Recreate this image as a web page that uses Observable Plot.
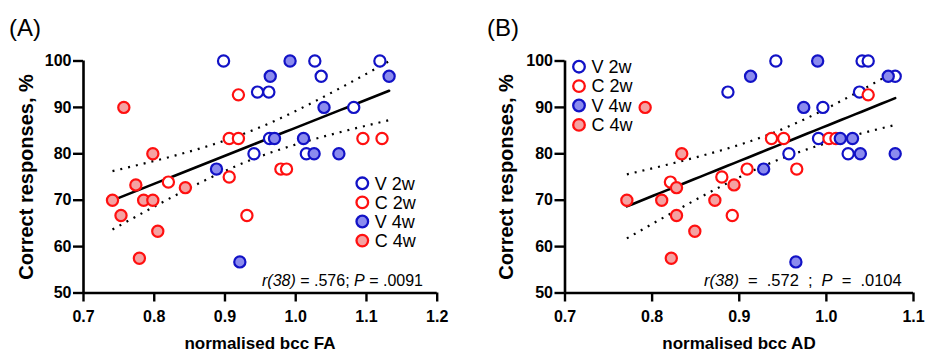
<!DOCTYPE html>
<html><head><meta charset="utf-8">
<script src="https://cdn.jsdelivr.net/npm/d3@7"></script>
<script src="https://cdn.jsdelivr.net/npm/@observablehq/plot@0.6"></script>
<style>
body{margin:0;background:#fff;}
#fig{position:relative;width:928px;height:351px;overflow:hidden;background:#fff;}
#fig svg{position:absolute;top:0;}
</style></head><body><div id="fig"></div>
<script>
// ---------- data ----------
const groupNames = ["V 2w", "C 2w", "V 4w", "C 4w"];
const groupStroke = ["#1212c6", "#ff1010", "#1212c6", "#ff1010"];
const groupFill = ["#ffffff", "#ffffff", "#8b8bee", "#f4a2a2"];

// Panel A: normalised bcc FA
const faV2wX = [0.898, 1.027, 1.119, 1.036, 0.946, 0.962, 1.082, 0.963, 0.941, 1.015];
const faV2wY = [100, 100, 100, 96.7, 93.3, 93.3, 90, 83.3, 80, 80];
const faC2wX = [0.919, 0.906, 0.919, 1.095, 1.122, 0.979, 0.987, 0.906, 0.820, 0.931];
const faC2wY = [92.7, 83.3, 83.3, 83.3, 83.3, 76.7, 76.7, 75, 73.9, 66.7];
const faV4wX = [0.992, 0.964, 1.132, 1.040, 0.970, 1.011, 1.026, 1.061, 0.888, 0.921];
const faV4wY = [100, 96.7, 96.7, 90, 83.3, 83.3, 80, 80, 76.7, 56.7];
const faC4wX = [0.757, 0.798, 0.774, 0.844, 0.741, 0.785, 0.798, 0.753, 0.805, 0.779];
const faC4wY = [90, 80, 73.3, 72.7, 70, 70, 70, 66.7, 63.3, 57.5];

// Panel B: normalised bcc AD
const adV2wX = [0.942, 1.041, 1.048, 1.079, 0.887, 1.038, 0.996, 0.991, 0.957, 1.025];
const adV2wY = [100, 100, 100, 96.7, 93.3, 93.3, 90, 83.3, 80, 80];
const adC2wX = [1.048, 0.937, 0.951, 1.003, 1.011, 0.909, 0.966, 0.880, 0.821, 0.892];
const adC2wY = [92.7, 83.3, 83.3, 83.3, 83.3, 76.7, 76.7, 75, 73.9, 66.7];
const adV4wX = [0.990, 0.913, 1.071, 0.974, 1.016, 1.030, 1.039, 1.079, 0.928, 0.965];
const adV4wY = [100, 96.7, 96.7, 90, 83.3, 83.3, 80, 80, 76.7, 56.7];
const adC4wX = [0.792, 0.834, 0.894, 0.828, 0.771, 0.811, 0.872, 0.828, 0.849, 0.822];
const adC4wY = [90, 80, 73.3, 72.7, 70, 70, 70, 66.7, 63.3, 57.5];

const xTicksA = [0.7, 0.8, 0.9, 1.0, 1.1, 1.2];
const xTicksB = [0.7, 0.8, 0.9, 1.0, 1.1];
const yTicks = [50, 60, 70, 80, 90, 100];

const panelLabels = ["(A)", "(B)"];
const xTitles = ["normalised bcc FA", "normalised bcc AD"];
const yTitle = "Correct responses, %";
const statR = [".576", ".572"];
const statP = [".0091", ".0104"];
const statDf = "38";
const tCrit = 2.0244; // t(0.975, df = 38)

// ---------- helpers ----------
const FONT = "'Liberation Sans', Arial, Helvetica, sans-serif";

function groupsOf(xsList, ysList) {
  return xsList.map((xs, i) => xs.map((x, j) => ({x, y: ysList[i][j]})));
}

function fitCurve(points) {
  const xs = points.map(d => d.x), ys = points.map(d => d.y);
  const n = xs.length, mx = d3.mean(xs), my = d3.mean(ys);
  let sxx = 0, sxy = 0;
  for (let i = 0; i < n; i++) { sxx += (xs[i] - mx) ** 2; sxy += (xs[i] - mx) * (ys[i] - my); }
  const b = sxy / sxx, a = my - b * mx;
  let sse = 0;
  for (let i = 0; i < n; i++) sse += (ys[i] - a - b * xs[i]) ** 2;
  const s = Math.sqrt(sse / (n - 2));
  const [x0, x1] = d3.extent(xs);
  return d3.range(41).map(k => {
    const x = x0 + (x1 - x0) * k / 40;
    const yh = a + b * x;
    const h = tCrit * s * Math.sqrt(1 / n + (x - mx) ** 2 / sxx);
    return {x, y: yh, lo: yh - h, hi: yh + h};
  });
}

function makePanel(cfg) {
  const groups = cfg.groups;
  const all = groups.flat();
  const curve = fitCurve(all);
  const dotted = {stroke: "#000", strokeWidth: 2.2, strokeDasharray: "2,6", strokeLinecap: "butt"};
  const marks = [
    Plot.ruleX([cfg.xTicks[0]], {stroke: "#000", strokeWidth: 2.6}),
    Plot.ruleY([yTicks[0]], {stroke: "#000", strokeWidth: 2.6}),
    Plot.axisX({ticks: cfg.xTicks, tickFormat: d3.format(".1f"), tickSize: 9, tickPadding: 9,
      strokeWidth: 2.4, fontSize: 16, fontWeight: "bold", label: null}),
    Plot.axisY({ticks: yTicks, tickSize: 10, tickPadding: 2, strokeWidth: 2.4,
      fontSize: 16, fontWeight: "bold", label: null}),
    Plot.line(curve, {x: "x", y: "hi", ...dotted}),
    Plot.line(curve, {x: "x", y: "lo", ...dotted}),
    Plot.line(curve, {x: "x", y: "y", stroke: "#000", strokeWidth: 2.6})
  ];
  groups.forEach((g, i) => {
    marks.push(Plot.dot(g, {x: "x", y: "y", r: 5.6, fill: groupFill[i], stroke: groupStroke[i], strokeWidth: 2.2}));
  });
  const svg = Plot.plot({
    width: 464, height: 351,
    marginLeft: cfg.marginLeft, marginRight: cfg.marginRight, marginTop: 60.5, marginBottom: 58.5,
    x: {domain: [cfg.xTicks[0], cfg.xTicks[cfg.xTicks.length - 1]]},
    y: {domain: [yTicks[0], yTicks[yTicks.length - 1]]},
    style: {fontFamily: FONT, background: "transparent", overflow: "visible", color: "#000"},
    marks
  });
  svg.style.left = cfg.left + "px";
  const s = d3.select(svg);
  // panel label
  s.append("text").attr("x", cfg.labelX).attr("y", 36).attr("font-size", 24)
    .attr("text-anchor", "start").attr("font-family", FONT).text(cfg.label);
  // y title
  s.append("text").attr("transform", `translate(${cfg.yTitleX},177) rotate(-90)`)
    .attr("text-anchor", "middle").attr("font-size", 20).attr("font-weight", "bold")
    .attr("font-family", FONT).text(yTitle);
  // x title
  s.append("text").attr("x", cfg.xTitleX).attr("y", 348.5).attr("text-anchor", "middle")
    .attr("font-size", 17).attr("font-weight", "bold").attr("font-family", FONT).text(cfg.xTitle);
  // stats annotation
  const t = s.append("text").attr("x", cfg.statX).attr("y", 286).attr("text-anchor", "end")
    .attr("font-size", cfg.statSize).attr("font-family", FONT).attr("word-spacing", cfg.statSpacing);
  t.append("tspan").attr("font-style", "italic").text(`r(${statDf})`);
  t.append("tspan").text(` = ${cfg.r}${cfg.semi}; `);
  t.append("tspan").attr("font-style", "italic").text("P");
  t.append("tspan").text(` = ${cfg.p}`);
  // legend
  const lg = s.append("g").attr("font-family", FONT).attr("font-size", 18).attr("text-anchor", "start");
  groupNames.forEach((name, i) => {
    const cy = cfg.legendY + i * cfg.legendStep;
    lg.append("circle").attr("cx", cfg.legendX).attr("cy", cy).attr("r", 5.8)
      .attr("fill", groupFill[i]).attr("stroke", groupStroke[i]).attr("stroke-width", 2.3);
    lg.append("text").attr("x", cfg.legendX + 12.5).attr("y", cy + 6.3).text(name);
  });
  return svg;
}

const fig = document.getElementById("fig");
fig.appendChild(makePanel({
  groups: groupsOf([faV2wX, faC2wX, faV4wX, faC4wX], [faV2wY, faC2wY, faV4wY, faC4wY]),
  xTicks: xTicksA, left: 0, marginLeft: 83, marginRight: 27.3,
  label: panelLabels[0], labelX: 9, yTitleX: 33, xTitle: xTitles[0], xTitleX: 260,
  r: statR[0], p: statP[0], semi: "", statX: 423, statSize: 16, statSpacing: 0,
  legendX: 362.3, legendY: 183.3, legendStep: 19.1
}));
fig.appendChild(makePanel({
  groups: groupsOf([adV2wX, adC2wX, adV4wX, adC4wX], [adV2wY, adC2wY, adV4wY, adC4wY]),
  xTicks: xTicksB, left: 464, marginLeft: 100.5, marginRight: 15,
  label: panelLabels[1], labelX: 23, yTitleX: 49, xTitle: xTitles[1], xTitleX: 275,
  r: statR[1], p: statP[1], semi: " ", statX: 437.7, statSize: 16.5, statSpacing: 4.5,
  legendX: 115, legendY: 66.7, legendStep: 19.4
}));
</script>
</body></html>
